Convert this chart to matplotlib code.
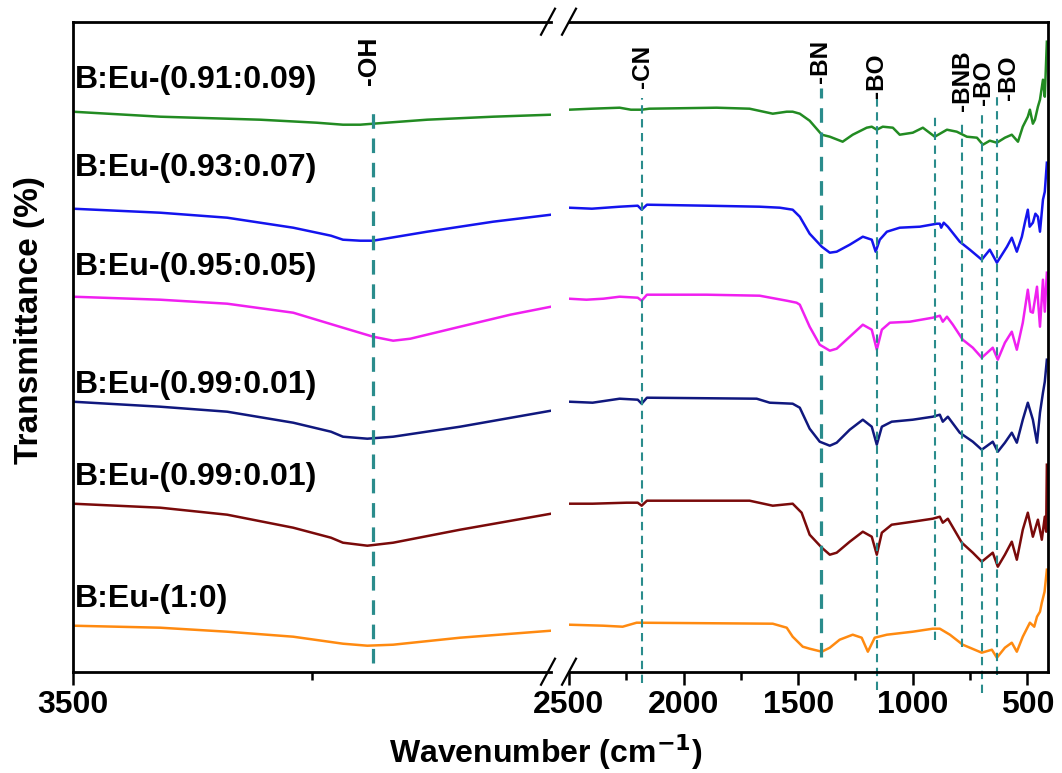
import matplotlib
matplotlib.use("Agg")
import matplotlib.pyplot as plt
import numpy as np

plt.rcParams['font.family'] = ['Liberation Sans', 'DejaVu Sans']
plt.rcParams['font.weight'] = 'bold'
plt.rcParams['lines.scale_dashes'] = False

# ---------------- data ----------------
sample_labels = ["B:Eu-(0.91:0.09)", "B:Eu-(0.93:0.07)", "B:Eu-(0.95:0.05)",
                 "B:Eu-(0.99:0.01)", "B:Eu-(0.99:0.01)", "B:Eu-(1:0)"]
sample_colors = ["#228b22", "#1414ee", "#f020f0", "#10187e", "#7a0a0a", "#ff8a10"]
label_y = [584, 496, 397, 279, 187, 65]

# left panel (3500-2500 cm-1): (wavenumber, transmittance offset)
green_left = [(3500, 560), (3317, 555), (3108, 552), (2990, 549), (2935, 547), (2899, 547),
              (2872, 548), (2759, 552), (2621, 555), (2500, 557)]
blue_left = [(3500, 463), (3317, 459), (3177, 454), (3039, 444), (2960, 436), (2935, 432),
             (2899, 431), (2872, 431), (2759, 440), (2621, 450), (2500, 457)]
magenta_left = [(3500, 375), (3317, 372), (3177, 368), (3039, 359), (2935, 344), (2872, 335),
                (2830, 331), (2794, 333), (2690, 345), (2585, 357), (2500, 365)]
navy_left = [(3500, 270), (3317, 265), (3177, 260), (3039, 249), (2960, 240), (2935, 235),
             (2884, 233), (2830, 235), (2690, 245), (2500, 261)]
maroon_left = [(3500, 168), (3317, 164), (3177, 157), (3039, 144), (2960, 134), (2935, 129),
               (2884, 126), (2830, 129), (2690, 142), (2500, 158)]
orange_left = [(3500, 46), (3317, 44), (3177, 40), (3039, 35), (2935, 28), (2884, 26),
               (2830, 27), (2690, 34), (2500, 41)]

# right panel (2500-410 cm-1)
green_right = [(2500, 562), (2400, 563), (2279, 564), (2230, 562), (2183, 562), (2150, 563),
               (1856, 564), (1712, 563), (1611, 558), (1550, 560), (1524, 560), (1493, 558),
               (1450, 551), (1397, 537), (1362, 535), (1306, 530), (1262, 537), (1201, 544),
               (1179, 545), (1157, 542), (1131, 545), (1087, 544), (1057, 537), (1000, 539),
               (956, 544), (904, 535), (851, 542), (808, 540), (764, 535), (720, 534),
               (694, 527), (664, 531), (633, 529), (598, 534), (568, 537), (541, 530),
               (520, 545), (498, 555), (489, 562), (476, 548), (467, 552), (454, 565),
               (445, 572), (432, 592), (424, 575), (415, 630)]
blue_right = [(2500, 464), (2400, 463), (2279, 465), (2200, 466), (2183, 462), (2160, 467),
              (1900, 466), (1668, 465), (1580, 464), (1524, 462), (1493, 455), (1450, 438),
              (1397, 425), (1362, 419), (1332, 420), (1275, 427), (1218, 435), (1179, 432),
              (1162, 420), (1144, 432), (1113, 440), (1057, 444), (969, 445), (895, 448),
              (882, 448), (876, 444), (865, 449), (847, 445), (795, 430), (751, 422),
              (699, 412), (664, 422), (633, 409), (589, 425), (568, 434), (546, 420),
              (524, 435), (510, 450), (498, 462), (490, 445), (476, 449), (465, 458),
              (454, 455), (445, 440), (432, 472), (424, 480), (415, 509)]
magenta_right = [(2500, 373), (2424, 372), (2350, 373), (2279, 375), (2200, 374), (2183, 371),
                 (2160, 377), (1900, 377), (1668, 376), (1550, 371), (1507, 369), (1493, 367),
                 (1450, 345), (1406, 327), (1362, 321), (1332, 323), (1275, 335), (1218, 347),
                 (1179, 342), (1157, 322), (1135, 342), (1100, 349), (1013, 350), (913, 354),
                 (882, 356), (869, 350), (851, 355), (825, 347), (782, 332), (738, 324),
                 (699, 314), (651, 324), (629, 312), (598, 329), (568, 340), (546, 322),
                 (520, 349), (498, 382), (486, 360), (476, 359), (458, 385), (445, 345),
                 (438, 370), (432, 392), (424, 360), (415, 399)]
navy_right = [(2500, 270), (2397, 269), (2279, 273), (2200, 272), (2183, 268), (2160, 274),
              (1681, 273), (1624, 269), (1524, 268), (1493, 264), (1450, 243), (1406, 230),
              (1362, 226), (1332, 229), (1275, 242), (1218, 252), (1179, 245), (1157, 227),
              (1135, 245), (1092, 250), (1000, 252), (913, 255), (882, 257), (869, 250),
              (847, 255), (795, 239), (738, 230), (699, 222), (651, 230), (629, 220),
              (598, 229), (568, 239), (546, 229), (520, 252), (498, 269), (476, 252),
              (458, 229), (445, 259), (432, 279), (424, 290), (415, 312)]
maroon_right = [(2500, 168), (2397, 168), (2249, 169), (2200, 169), (2183, 166), (2160, 171),
                (1712, 171), (1611, 166), (1524, 168), (1485, 159), (1450, 137), (1397, 124),
                (1362, 117), (1332, 119), (1275, 130), (1218, 140), (1179, 135), (1157, 117),
                (1135, 139), (1092, 147), (1000, 150), (913, 153), (882, 155), (869, 149),
                (847, 153), (786, 129), (738, 119), (699, 110), (651, 119), (629, 105),
                (598, 117), (568, 130), (546, 112), (520, 142), (498, 159), (476, 135),
                (454, 152), (437, 132), (424, 155), (418, 140), (415, 207)]
orange_right = [(2500, 47), (2350, 46), (2266, 45), (2205, 49), (1611, 48), (1550, 44),
                (1524, 35), (1480, 25), (1450, 23), (1397, 20), (1362, 24), (1319, 32),
                (1262, 37), (1223, 34), (1196, 20), (1166, 34), (1113, 37), (1000, 40),
                (913, 43), (882, 43), (838, 37), (782, 27), (699, 19), (655, 22),
                (633, 14), (598, 24), (568, 29), (546, 20), (520, 35), (489, 49),
                (470, 45), (458, 55), (445, 60), (437, 69), (425, 80), (415, 102)]

left_series = [green_left, blue_left, magenta_left, navy_left, maroon_left, orange_left]
right_series = [green_right, blue_right, magenta_right, navy_right, maroon_right, orange_right]

# peak guide lines
oh_line = (2872, 9, 568)
right_lines_wn = [2183, 1399, 1157, 904, 786, 699, 633]
right_lines_lo = [-11, 15, -18, 32, 25, -21, -3]
right_lines_hi = [574, 584, 573, 557, 550, 559, 575]
right_lines_thick = [False, True, False, False, False, False, False]

# peak labels
oh_label = ("-OH", 2880, 587)
peak_names = ["-CN", "-BN", "-BO", "-BNB", "-BO", "-BO"]
peak_label_wn = [2179, 1402, 1157, 784, 690, 584]
peak_label_y = [584, 589, 574, 561, 567, 572]

guide_color = "#2a8c8c"

# ---------------- figure ----------------
W, H = 1062, 773
fig = plt.figure(figsize=(W / 100, H / 100), dpi=100)

def px_axes(x0, x1, y0, y1):
    return fig.add_axes([x0 / W, 1 - y1 / H, (x1 - x0) / W, (y1 - y0) / H])

axL = px_axes(72.7, 551, 21.7, 671.7)
axR = px_axes(569, 1048, 21.7, 671.7)

for ax in (axL, axR):
    ax.set_ylim(0, 650)
    ax.set_yticks([])
    for s in ax.spines.values():
        s.set_linewidth(2.0)
    ax.tick_params(axis='x', which='major', direction='out', length=9, width=1.8,
                   labelsize=23, pad=4)
    ax.tick_params(axis='x', which='minor', direction='out', length=6, width=1.8)

axL.set_xlim(3500, 2500)
axR.set_xlim(2500, 410)
axL.spines['right'].set_visible(False)
axR.spines['left'].set_visible(False)
axL.set_xticks([3500])
axL.set_xticks([3000], minor=True)
axR.set_xticks([2500, 2000, 1500, 1000, 500])
axR.set_xticks([2250, 1750, 1250, 750], minor=True)
for lab in axL.get_xticklabels() + axR.get_xticklabels():
    lab.set_fontweight('bold')

for data, c in zip(left_series, sample_colors):
    x, y = zip(*data)
    axL.plot(x, y, color=c, lw=1.8)
for data, c in zip(right_series, sample_colors):
    x, y = zip(*data)
    axR.plot(x, y, color=c, lw=1.8)

# sample labels
for t, yy in zip(sample_labels, label_y):
    axL.text(3495, yy, t, fontsize=23, fontweight='bold', ha='left', va='baseline')

# guide lines
thick_ls = (0, (10.5, 7))
thin_ls = (0, (6, 4))
axL.plot([oh_line[0]] * 2, [oh_line[1], oh_line[2]], color=guide_color, lw=2.3,
         ls=thick_ls, clip_on=False)
for wn, lo, hi, th in zip(right_lines_wn, right_lines_lo, right_lines_hi, right_lines_thick):
    axR.plot([wn, wn], [lo, hi], color=guide_color, lw=2.3 if th else 1.5,
             ls=thick_ls if th else thin_ls, clip_on=False)

# peak labels
axL.text(oh_label[1], oh_label[2], oh_label[0], rotation=90, ha='center', va='bottom',
         fontsize=19, fontweight='bold')
for t, wn, yy in zip(peak_names, peak_label_wn, peak_label_y):
    axR.text(wn, yy, t, rotation=90, ha='center', va='bottom', fontsize=17.5,
             fontweight='bold')

# axis break marks
def slash(ax, xf):
    bb = ax.get_position()
    dx = 7 / (bb.width * W)
    dy = 13 / (bb.height * H)
    for yf in (0, 1):
        ax.plot([xf - dx, xf + dx], [yf - dy, yf + dy], transform=ax.transAxes,
                color='black', lw=1.6, clip_on=False)

slash(axL, 1 - 3 / 478.3)
slash(axR, 0.0)

# axis titles
fig.text(546 / W, 1 - 763 / H, r"Wavenumber (cm$^{\mathbf{-1}}$)", ha='center',
         va='baseline', fontsize=23, fontweight='bold')
fig.text(30 / W, 1 - 320 / H, "Transmittance (%)", rotation=90, ha='center',
         va='center', fontsize=24, fontweight='bold')

fig.savefig("out.png", dpi=100)
